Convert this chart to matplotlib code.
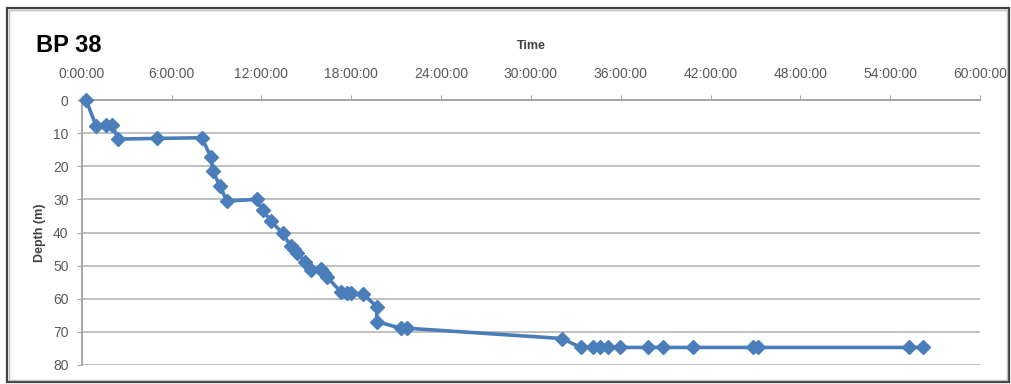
import matplotlib.pyplot as plt
import numpy as np
from matplotlib.ticker import FuncFormatter, MultipleLocator
from matplotlib.patches import Rectangle

# elapsed time (hours) and depth (m)
time_h = [0.29, 0.96, 1.6, 2.0, 2.45, 5.01, 8.02, 8.62, 8.75, 9.24, 9.69,
          11.69, 12.09, 12.63, 13.43, 13.96, 14.18, 14.4, 14.92, 15.3, 15.97,
          16.19, 16.41, 17.3, 17.7, 18.0, 18.82, 19.71, 19.71, 21.31, 21.76,
          32.07, 33.34, 34.14, 34.63, 35.12, 35.97, 37.82, 38.82, 40.82,
          44.87, 45.14, 55.23, 56.19]
depth_m = [0, 7.8, 7.5, 7.4, 11.8, 11.6, 11.4, 17.1, 21.4, 26.0, 30.5,
           30.0, 33.2, 36.5, 40.3, 44.1, 45.1, 46.1, 48.8, 51.3, 51.0,
           52.3, 53.5, 57.9, 58.2, 58.4, 58.7, 62.4, 66.9, 68.9, 68.9,
           72.0, 74.7, 74.7, 74.7, 74.7, 74.7, 74.7, 74.7, 74.7,
           74.7, 74.7, 74.7, 74.7]

title = "BP 38"
xlab = "Time"
ylab = "Depth (m)"

plt.rcParams['font.family'] = ['Liberation Sans', 'DejaVu Sans']
grey_txt = '#595959'

fig = plt.figure(figsize=(10.12, 3.84), dpi=100)
ax = fig.add_axes([81.7/1012, 1-365/384, (980-81.7)/1012, 265/384])

ax.plot(time_h, depth_m, color='#4a7ebb', lw=2.6, marker='D', ms=7,
        mec='#4a7ebb', mfc='#4a7ebb', zorder=3, clip_on=False)

ax.set_xlim(0, 60)
ax.set_ylim(80, 0)
ax.xaxis.set_major_locator(MultipleLocator(6))
ax.yaxis.set_major_locator(MultipleLocator(10))
ax.xaxis.set_major_formatter(FuncFormatter(lambda v, p: f"{int(round(v))}:00:00"))
ax.xaxis.tick_top()
ax.xaxis.set_label_position('top')

ax.grid(axis='y', color='#c0c0c0', lw=1.4)
ax.set_axisbelow(True)
for s in ['right', 'bottom']:
    ax.spines[s].set_visible(False)
for s in ['left', 'top']:
    ax.spines[s].set_color('#a6a6a6')
    ax.spines[s].set_linewidth(1.4)

ax.tick_params(axis='x', direction='out', length=3.5, color='#a6a6a6',
               labelsize=10, labelcolor=grey_txt, pad=10)
ax.tick_params(axis='y', direction='out', length=3.5, color='#a6a6a6',
               labelsize=10, labelcolor=grey_txt, pad=6)

ax.set_xlabel(xlab, fontsize=9, fontweight='bold', color='#404040', labelpad=13)
ax.set_ylabel(ylab, fontsize=9, fontweight='bold', color='#404040', labelpad=5)

fig.text(36/1012, 1-45/384, title, fontsize=17, fontweight='bold',
         va='center', ha='left')

# chart frame
fig.patches.append(Rectangle((7/1012, 1-382/384), 1002/1012, 374/384,
                             transform=fig.transFigure, fill=False,
                             ec='#404040', lw=1.6))
fig.patches.append(Rectangle((9/1012, 1-380/384), 998/1012, 370/384,
                             transform=fig.transFigure, fill=False,
                             ec='#bfbfbf', lw=1.0))

fig.savefig('out.png', dpi=100)
